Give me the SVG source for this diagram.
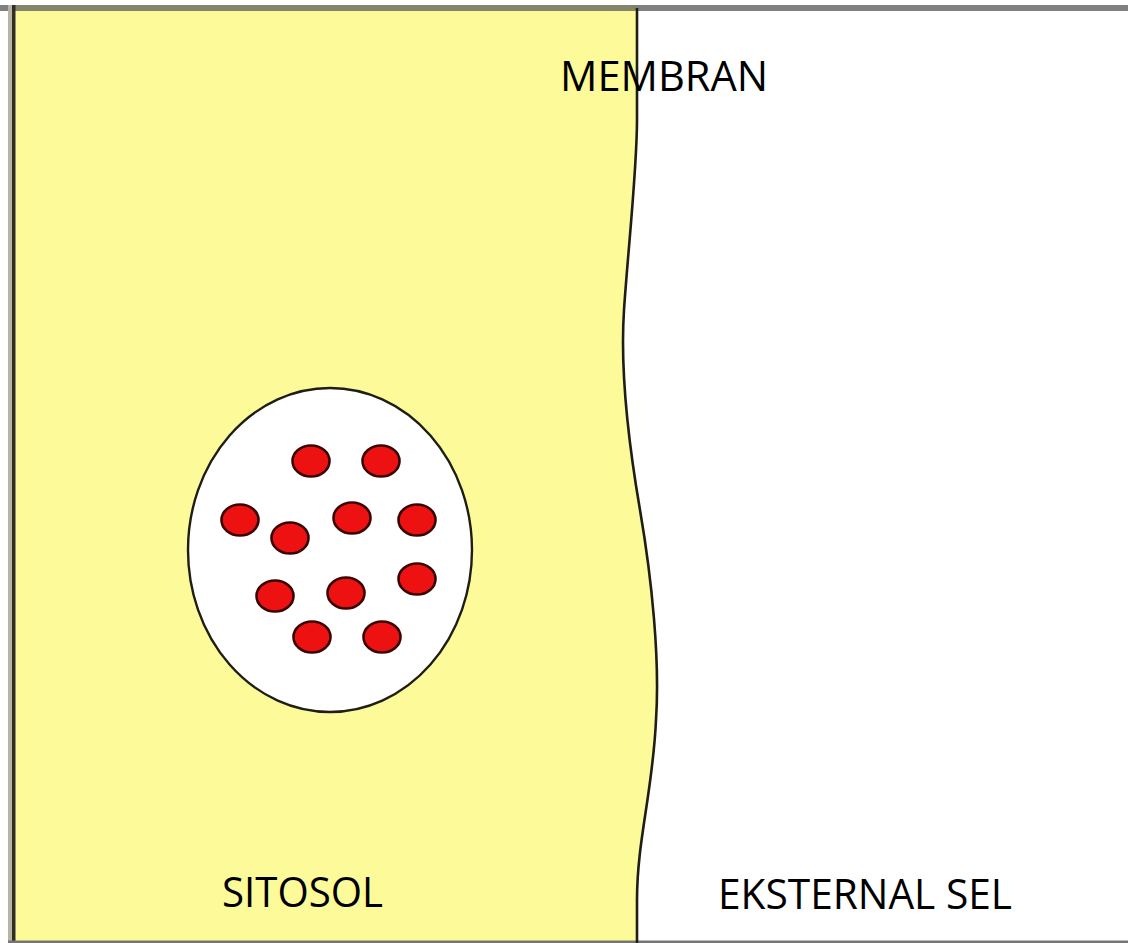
<svg xmlns="http://www.w3.org/2000/svg" width="1128" height="943" viewBox="0 0 1128 943">
  <defs>
    <style>
      .label { font-family: "Open Sans", "Liberation Sans", sans-serif; font-size: 42px; fill: #000; }
      .granule { fill: #ee1111; stroke: #3a0303; stroke-width: 2.6; }
      .membrane { fill: none; stroke: #1e1e14; stroke-width: 2.6; }
    </style>
  </defs>

  <!-- background: extracellular space -->
  <rect x="0" y="0" width="1128" height="943" fill="#ffffff"/>

  <!-- cytosol, bounded on the right by the wavy membrane -->
  <path id="cytosol" fill="#fdfb99"
        d="M14,8 L637,8 L637,120 C637,170 628,250 624,310 C620,370 628,440 640,510 C652,580 660,660 656,720 C653,790 637,840 637,900 L637,943 L14,943 Z"/>

  <!-- frame -->
  <rect x="0" y="5" width="1128" height="6" fill="#808080"/>
  <rect x="8" y="5" width="629" height="6" fill="#84846c"/>
  <rect x="8" y="5" width="4" height="938" fill="#b9b3a3"/>
  <rect x="12" y="5" width="3.5" height="938" fill="#2e2e28"/>
  <rect x="8" y="940.5" width="1120" height="2.5" fill="#757575"/>

  <!-- cell membrane -->
  <g id="membrane">
    <path class="membrane"
          d="M637,8 L637,120 C637,170 628,250 624,310 C620,370 628,440 640,510 C652,580 660,660 656,720 C653,790 637,840 637,900 L637,943"/>
  </g>

  <!-- vesicle with granules -->
  <g id="vesicle">
    <ellipse cx="330" cy="550" rx="142" ry="162" fill="#ffffff" stroke="#1e1e14" stroke-width="2.4"/>
    <g id="granules">
      <ellipse class="granule" cx="311" cy="461" rx="18.5" ry="15.5"/>
      <ellipse class="granule" cx="381" cy="461" rx="18.5" ry="15.5"/>
      <ellipse class="granule" cx="240" cy="520" rx="18.5" ry="15.5"/>
      <ellipse class="granule" cx="352" cy="518" rx="18.5" ry="15.5"/>
      <ellipse class="granule" cx="417" cy="520" rx="18.5" ry="15.5"/>
      <ellipse class="granule" cx="290" cy="538" rx="18.5" ry="15.5"/>
      <ellipse class="granule" cx="417" cy="579" rx="18.5" ry="15.5"/>
      <ellipse class="granule" cx="275" cy="596" rx="18.5" ry="15.5"/>
      <ellipse class="granule" cx="346" cy="593" rx="18.5" ry="15.5"/>
      <ellipse class="granule" cx="312" cy="637" rx="18.5" ry="15.5"/>
      <ellipse class="granule" cx="382" cy="637" rx="18.5" ry="15.5"/>
    </g>
  </g>

  <!-- labels -->
  <g id="label-membran">
    <text class="label" x="560" y="91" textLength="208" lengthAdjust="spacingAndGlyphs">MEMBRAN</text>
  </g>
  <g id="label-sitosol">
    <text class="label" x="222" y="907" textLength="161" lengthAdjust="spacingAndGlyphs">SITOSOL</text>
  </g>
  <g id="label-eksternal">
    <text class="label" x="718" y="909" textLength="294" lengthAdjust="spacingAndGlyphs">EKSTERNAL SEL</text>
  </g>
</svg>
